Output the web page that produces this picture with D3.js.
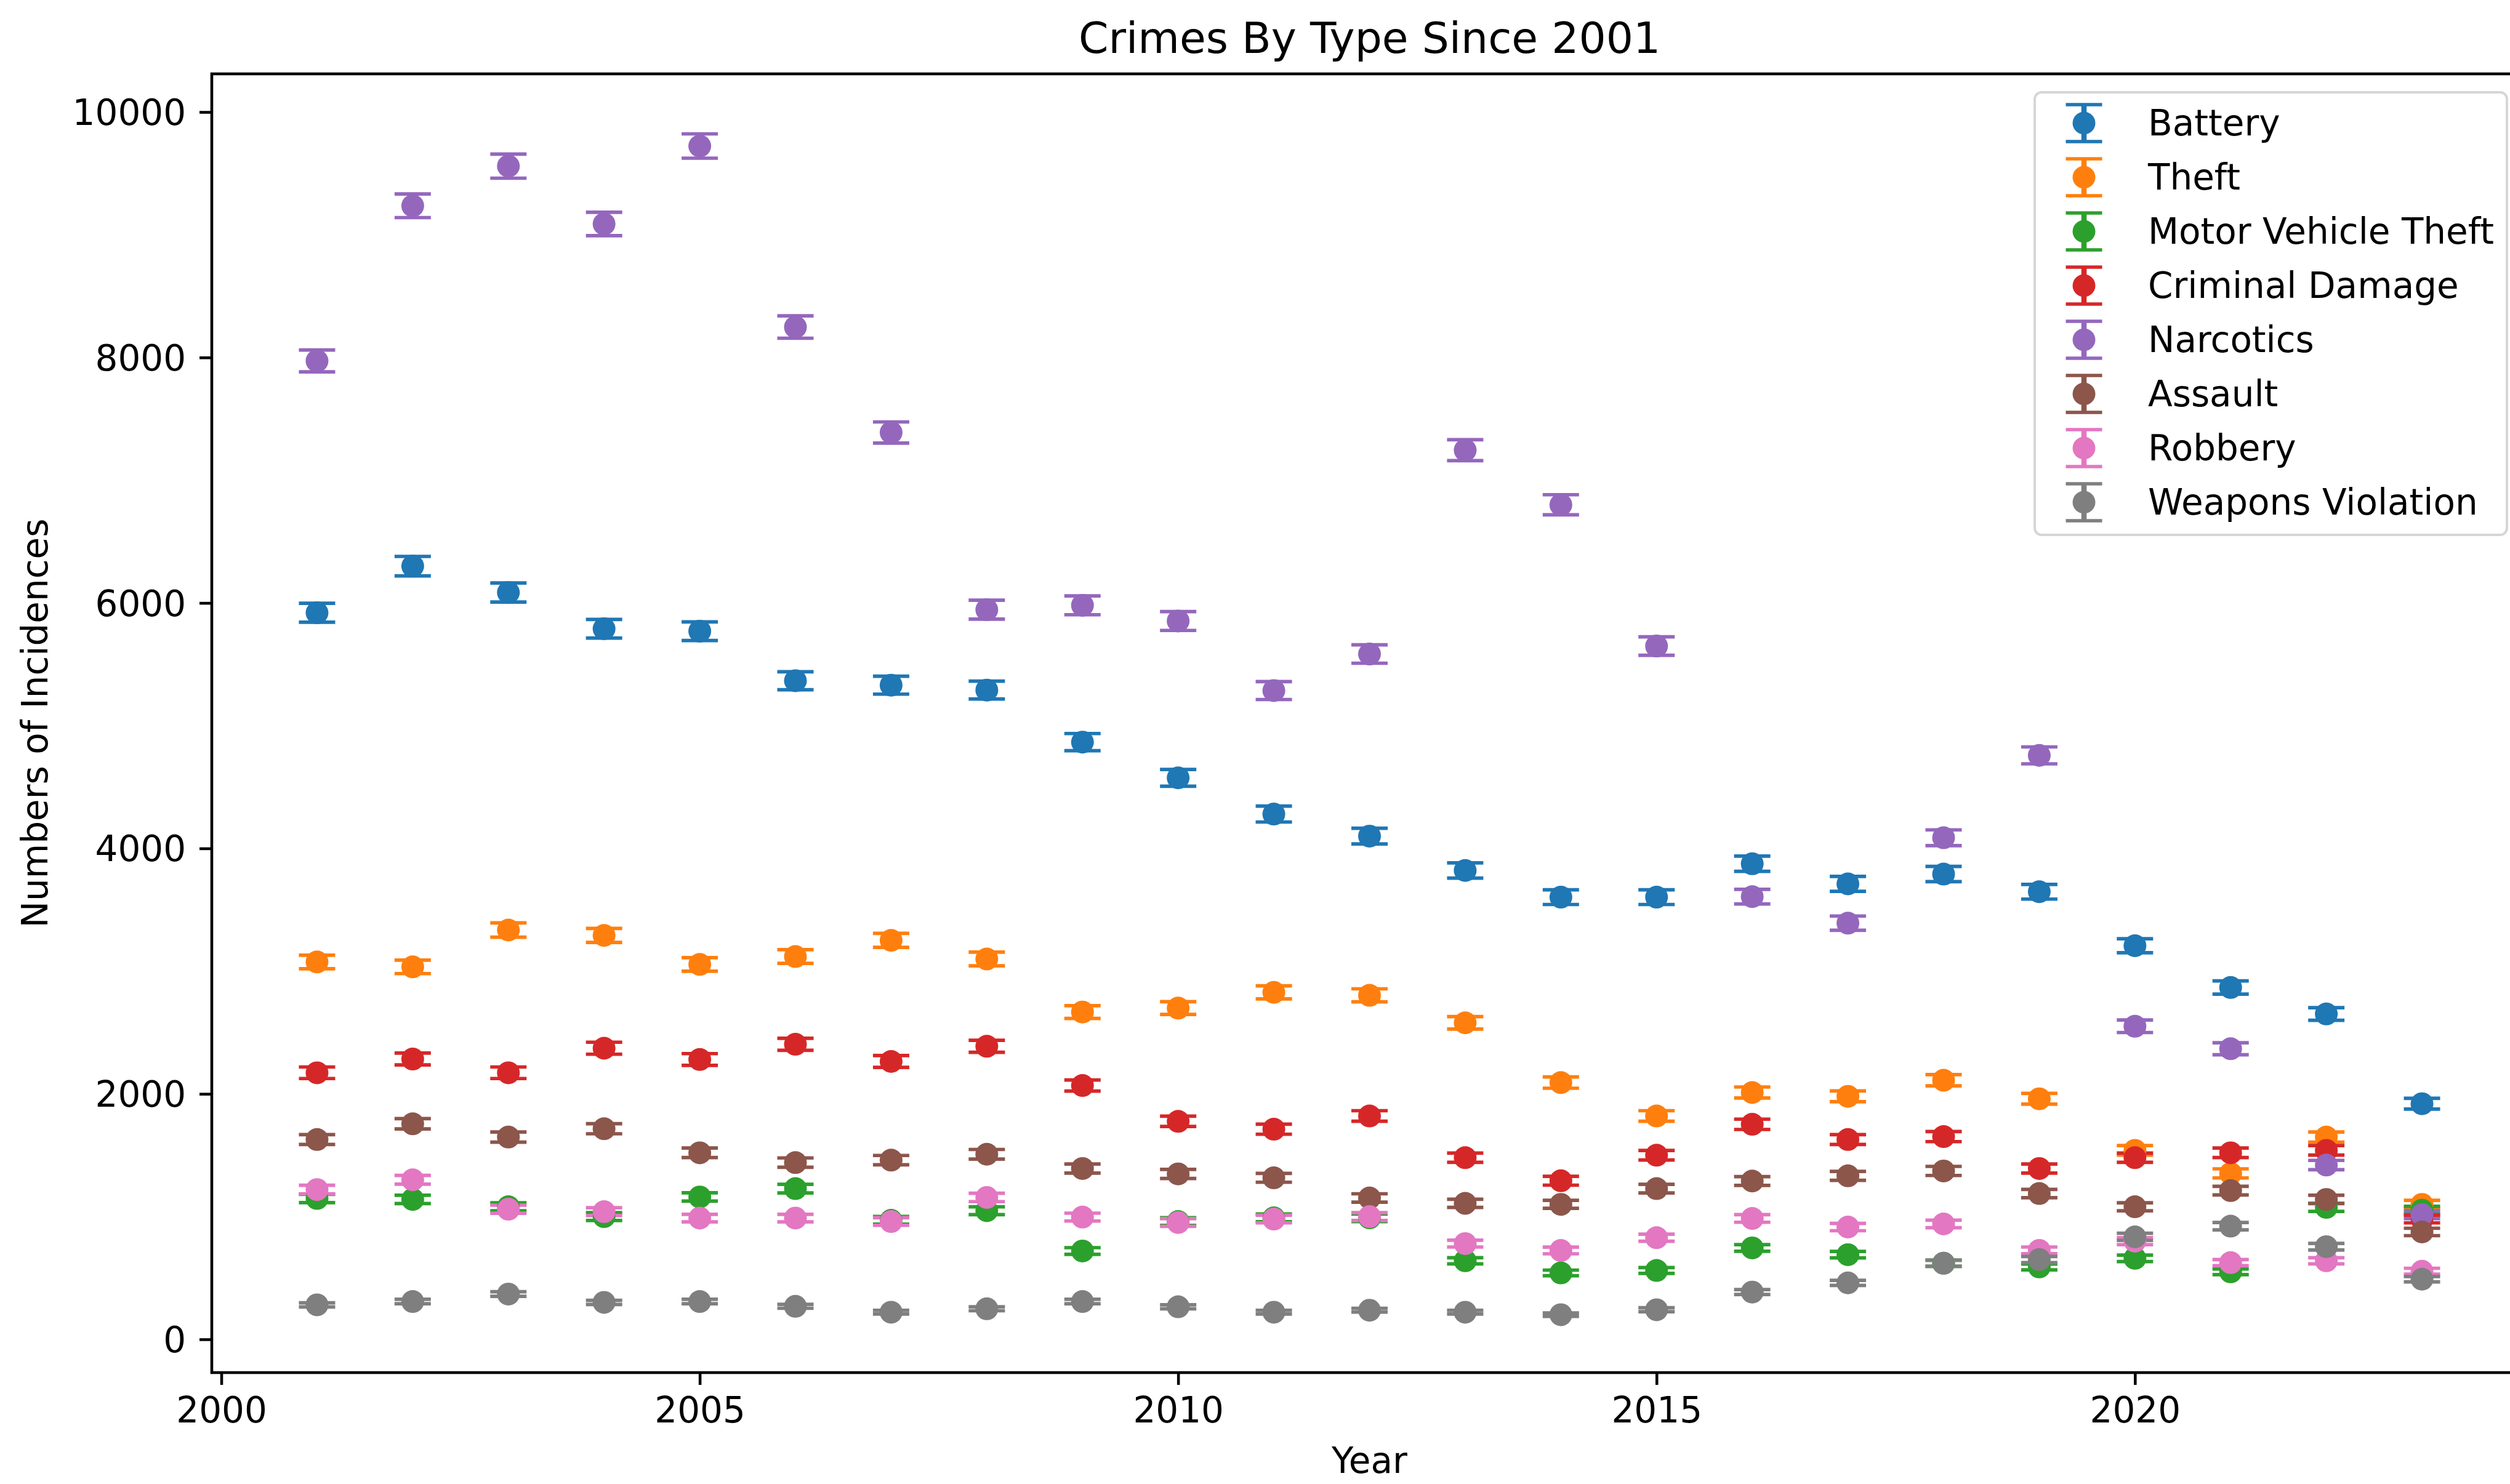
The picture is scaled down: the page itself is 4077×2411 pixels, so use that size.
<!DOCTYPE html>
<html>
<head>
<meta charset="utf-8">
<script src="https://cdn.jsdelivr.net/npm/d3@7"></script>
<style>
html, body { margin: 0; padding: 0; background: #ffffff; }
svg { display: block; font-family: "DejaVu Sans", sans-serif; }
</style>
</head>
<body>
<svg id="chart" width="4077" height="2411"></svg>
<script>
// ---------------- DATA ----------------
const chartTitle = "Crimes By Type Since 2001";
const xLabel = "Year";
const yLabel = "Numbers of Incidences";

const years = [2001, 2002, 2003, 2004, 2005, 2006, 2007, 2008, 2009, 2010, 2011, 2012,
               2013, 2014, 2015, 2016, 2017, 2018, 2019, 2020, 2021, 2022, 2023];

const seriesNames = ["Battery", "Theft", "Motor Vehicle Theft", "Criminal Damage",
                     "Narcotics", "Assault", "Robbery", "Weapons Violation"];
const seriesColors = ["#1f77b4", "#ff7f0e", "#2ca02c", "#d62728",
                      "#9467bd", "#8c564b", "#e377c2", "#7f7f7f"];

const battery      = [5920, 6300, 6085, 5790, 5770, 5366, 5330, 5290, 4866, 4575, 4280, 4100, 3820, 3603, 3603, 3875, 3711, 3791, 3647, 3207, 2867, 2651, 1920];
const batteryErr   = [77, 79, 78, 76, 76, 73, 73, 73, 70, 68, 65, 64, 62, 60, 60, 62, 61, 62, 60, 57, 54, 51, 44];

const theft        = [3075, 3035, 3335, 3291, 3055, 3119, 3251, 3099, 2667, 2699, 2827, 2803, 2579, 2092, 1820, 2011, 1980, 2111, 1960, 1540, 1352, 1648, 1100];
const theftErr     = [55, 55, 58, 57, 55, 56, 57, 56, 52, 52, 53, 53, 51, 46, 43, 45, 44, 46, 44, 39, 37, 41, 33];

const motorVehicle = [1148, 1140, 1080, 1000, 1160, 1228, 970, 1048, 720, 960, 990, 990, 640, 541, 561, 745, 690, 620, 590, 660, 550, 1075, 1052];
const motorVehicleErr = [34, 34, 33, 32, 34, 35, 31, 32, 27, 31, 31, 31, 25, 23, 24, 27, 26, 25, 24, 26, 23, 33, 32];

const criminalDamage = [2172, 2284, 2172, 2372, 2280, 2404, 2264, 2388, 2068, 1776, 1712, 1820, 1480, 1292, 1500, 1752, 1628, 1652, 1392, 1480, 1520, 1540, 980];
const criminalDamageErr = [47, 48, 47, 49, 48, 49, 48, 49, 45, 42, 41, 43, 38, 36, 39, 42, 40, 41, 37, 38, 39, 39, 31];

const narcotics    = [7972, 9236, 9559, 9088, 9723, 8248, 7389, 5945, 5981, 5853, 5286, 5584, 7245, 6800, 5649, 3607, 3391, 4087, 4758, 2551, 2368, 1420, 1015];
const narcoticsErr = [89, 96, 98, 95, 99, 91, 86, 77, 77, 77, 73, 75, 85, 82, 75, 60, 58, 64, 69, 51, 49, 38, 32];

const assault      = [1628, 1756, 1648, 1716, 1520, 1440, 1460, 1508, 1392, 1348, 1316, 1152, 1108, 1100, 1228, 1290, 1332, 1372, 1188, 1080, 1212, 1140, 875];
const assaultErr   = [40, 42, 41, 41, 39, 38, 38, 39, 37, 37, 36, 34, 33, 33, 35, 36, 36, 37, 34, 33, 35, 34, 30];

const robbery      = [1220, 1300, 1060, 1040, 988, 988, 960, 1156, 996, 952, 980, 1000, 780, 724, 828, 985, 915, 940, 725, 800, 625, 640, 555];
const robberyErr   = [35, 36, 33, 32, 31, 31, 31, 34, 32, 31, 31, 32, 28, 27, 29, 31, 30, 31, 27, 28, 25, 25, 24];

const weapons      = [281, 308, 369, 301, 308, 269, 221, 249, 308, 265, 221, 237, 221, 201, 241, 385, 460, 620, 650, 835, 922, 755, 490];
const weaponsErr   = [17, 18, 19, 17, 18, 16, 15, 16, 18, 16, 15, 15, 15, 14, 16, 20, 21, 25, 25, 29, 30, 27, 22];

const xTicks = [2000, 2005, 2010, 2015, 2020];
const yTicks = [0, 2000, 4000, 6000, 8000, 10000];
const xLimits = [1999.9, 2024.1];
const yLimits = [-271, 10311];

// ---------------- BUILD ----------------
const valuesList = [battery, theft, motorVehicle, criminalDamage, narcotics, assault, robbery, weapons];
const errorsList = [batteryErr, theftErr, motorVehicleErr, criminalDamageErr, narcoticsErr, assaultErr, robberyErr, weaponsErr];
const series = seriesNames.map((name, i) => ({
  name, color: seriesColors[i],
  points: years.map((yr, j) => ({ year: yr, value: valuesList[i][j], err: errorsList[i][j] }))
}));

const W = 4077, H = 2411;
const plot = { left: 344, right: 4105, top: 120, bottom: 2230 };
const PT = 5.7;                // pixels per point
const fontSize = 58;
const titleSize = 69.5;
const spineW = 0.8 * PT;
const tickLen = 3.5 * PT;
const tickPad = 3.5 * PT;
const markerR = 18.5;
const eLineW = 1.5 * PT;
const capW = 1.0 * PT;
const capHalf = 29.5;

const svg = d3.select("#chart");
svg.append("rect").attr("width", W).attr("height", H).attr("fill", "#ffffff");

const x = d3.scaleLinear().domain(xLimits).range([plot.left, plot.right]);
const y = d3.scaleLinear().domain(yLimits).range([plot.bottom, plot.top]);

// clip
svg.append("defs").append("clipPath").attr("id", "plotclip")
  .append("rect").attr("x", plot.left).attr("y", plot.top)
  .attr("width", plot.right - plot.left).attr("height", plot.bottom - plot.top);

const gData = svg.append("g").attr("clip-path", "url(#plotclip)");

// error bars (all below markers, like matplotlib zorder)
series.forEach(s => {
  const g = gData.append("g").attr("stroke", s.color);
  g.selectAll("line.eb").data(s.points).join("line").attr("class", "eb")
    .attr("x1", d => x(d.year)).attr("x2", d => x(d.year))
    .attr("y1", d => y(d.value - d.err)).attr("y2", d => y(d.value + d.err))
    .attr("stroke-width", eLineW);
  g.selectAll("line.capt").data(s.points).join("line").attr("class", "capt")
    .attr("x1", d => x(d.year) - capHalf).attr("x2", d => x(d.year) + capHalf)
    .attr("y1", d => y(d.value + d.err)).attr("y2", d => y(d.value + d.err))
    .attr("stroke-width", capW);
  g.selectAll("line.capb").data(s.points).join("line").attr("class", "capb")
    .attr("x1", d => x(d.year) - capHalf).attr("x2", d => x(d.year) + capHalf)
    .attr("y1", d => y(d.value - d.err)).attr("y2", d => y(d.value - d.err))
    .attr("stroke-width", capW);
});
// markers
series.forEach(s => {
  gData.append("g").selectAll("circle").data(s.points).join("circle")
    .attr("cx", d => x(d.year)).attr("cy", d => y(d.value))
    .attr("r", markerR).attr("fill", s.color);
});

// axes
const xAxis = d3.axisBottom(x).tickValues(xTicks).tickFormat(d3.format("d"))
  .tickSize(tickLen).tickPadding(tickPad);
const yAxis = d3.axisLeft(y).tickValues(yTicks).tickFormat(d3.format("d"))
  .tickSize(tickLen).tickPadding(tickPad);

const gx = svg.append("g").attr("transform", `translate(0,${plot.bottom})`).call(xAxis);
const gy = svg.append("g").attr("transform", `translate(${plot.left},0)`).call(yAxis);
[gx, gy].forEach(g => {
  g.select(".domain").remove();
  g.selectAll(".tick line").attr("stroke", "#000").attr("stroke-width", spineW);
  g.selectAll(".tick text").attr("fill", "#000")
    .style("font-family", '"DejaVu Sans", sans-serif').style("font-size", fontSize + "px");
});
gx.selectAll(".tick text").attr("dy", null)
  .attr("dominant-baseline", "auto")
  .attr("y", 81);
gy.selectAll(".tick text").attr("dy", null)
  .attr("dominant-baseline", "auto")
  .attr("y", 20.5).attr("x", -(tickLen + tickPad + 2));

// frame (right spine falls outside the picture)
svg.append("rect")
  .attr("x", plot.left).attr("y", plot.top)
  .attr("width", plot.right - plot.left).attr("height", plot.bottom - plot.top)
  .attr("fill", "none").attr("stroke", "#000").attr("stroke-width", spineW);

// title & labels
svg.append("text").attr("x", (plot.left + plot.right) / 2).attr("y", 86)
  .attr("text-anchor", "middle").style("font-size", titleSize + "px").attr("fill", "#000")
  .text(chartTitle);
svg.append("text").attr("x", (plot.left + plot.right) / 2).attr("y", 2393)
  .attr("text-anchor", "middle").style("font-size", fontSize + "px").attr("fill", "#000")
  .text(xLabel);
svg.append("text")
  .attr("transform", `translate(77,${(plot.top + plot.bottom) / 2}) rotate(-90)`)
  .attr("text-anchor", "middle").style("font-size", fontSize + "px").attr("fill", "#000")
  .text(yLabel);

// legend
const leg = { x: 3305, y: 150, w: 767, h: 719, rowY0: 200, rowStep: 88, markX: 3385, textX: 3489 };
svg.append("rect").attr("x", leg.x).attr("y", leg.y).attr("width", leg.w).attr("height", leg.h)
  .attr("rx", 11).attr("ry", 11)
  .attr("fill", "#ffffff").attr("fill-opacity", 0.8)
  .attr("stroke", "#d6d6d6").attr("stroke-width", 4);
const rows = svg.append("g").selectAll("g").data(series).join("g")
  .attr("transform", (d, i) => `translate(0,${leg.rowY0 + i * leg.rowStep})`);
rows.append("line").attr("x1", leg.markX).attr("x2", leg.markX).attr("y1", -30).attr("y2", 30)
  .attr("stroke", d => d.color).attr("stroke-width", eLineW);
rows.append("line").attr("x1", leg.markX - capHalf).attr("x2", leg.markX + capHalf).attr("y1", -30).attr("y2", -30)
  .attr("stroke", d => d.color).attr("stroke-width", capW);
rows.append("line").attr("x1", leg.markX - capHalf).attr("x2", leg.markX + capHalf).attr("y1", 30).attr("y2", 30)
  .attr("stroke", d => d.color).attr("stroke-width", capW);
rows.append("circle").attr("cx", leg.markX).attr("cy", 0).attr("r", markerR).attr("fill", d => d.color);
rows.append("text").attr("x", leg.textX).attr("y", 20)
  .style("font-size", fontSize + "px").attr("fill", "#000")
  .text(d => d.name);
</script>
</body>
</html>
